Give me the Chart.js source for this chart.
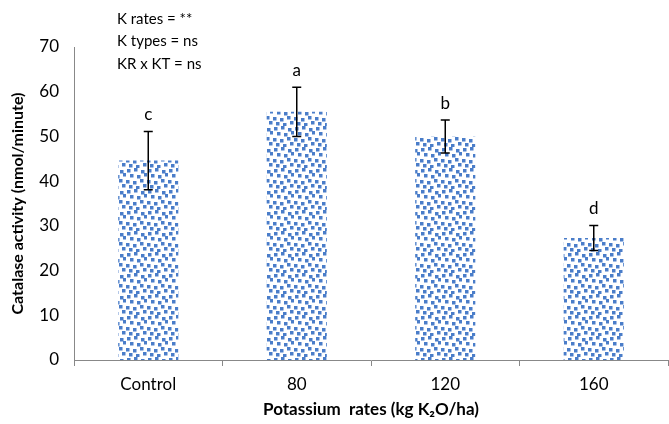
<!DOCTYPE html>
<html>
<head>
<meta charset="utf-8">
<script src="https://cdn.jsdelivr.net/npm/chart.js@4"></script>
<style>
  html, body { margin: 0; padding: 0; background: #fff; }
  #wrap { width: 669px; height: 424px; position: relative; }
</style>
</head>
<body>
<div id="wrap"><canvas id="chart"></canvas></div>
<script>
// Data
const categories = ['Control', '80', '120', '160'];
const catalase = [44.6, 55.5, 50.0, 27.3];
const errors = [6.5, 5.5, 3.7, 2.8];
const letters = ['c', 'a', 'b', 'd'];
const notes = ['K rates = **', 'K types = ns', 'KR x KT = ns'];

const FONT = 'Lato, "Open Sans", sans-serif';

// dotted blue fill like the original (staggered, slightly irregular squares)
function makePattern() {
    const c = document.createElement('canvas');
    c.width = 21; c.height = 21;
    const g = c.getContext('2d');
    g.fillStyle = '#ffffff';
    g.fillRect(0, 0, 21, 21);
    g.fillStyle = '#4a7dc9';
    [[1, 1], [8, 0], [15, 2], [4, 6], [11, 7], [18, 5], [0, 12], [7, 13], [14, 11], [3, 17], [10, 18], [17, 16]]
        .forEach(p => g.fillRect(p[0], p[1], 3.5, 3.5));
    return g.createPattern(c, 'repeat');
}

const errorBars = {
    id: 'errorBars',
    afterDatasetsDraw(chart) {
        const ctx = chart.ctx;
        const y = chart.scales.y;
        const meta = chart.getDatasetMeta(0);
        ctx.save();
        ctx.strokeStyle = '#000';
        ctx.lineWidth = 1.5;
        meta.data.forEach((bar, i) => {
            const x = bar.x;
            const top = y.getPixelForValue(catalase[i] + errors[i]);
            const bot = y.getPixelForValue(catalase[i] - errors[i]);
            ctx.beginPath();
            ctx.moveTo(x, top); ctx.lineTo(x, bot);
            ctx.moveTo(x - 4.5, top); ctx.lineTo(x + 4.5, top);
            ctx.moveTo(x - 4.5, bot); ctx.lineTo(x + 4.5, bot);
            ctx.stroke();
            ctx.fillStyle = '#000';
            ctx.font = '17px ' + FONT;
            ctx.textAlign = 'center';
            ctx.textBaseline = 'bottom';
            ctx.fillText(letters[i], x, top - 8);
        });
        ctx.font = '15px ' + FONT;
        ctx.textAlign = 'left';
        ctx.textBaseline = 'middle';
        notes.forEach((t, i) => ctx.fillText(t, 117, 19 + i * 22.5));
        ctx.restore();
    }
};

new Chart(document.getElementById('chart'), {
    type: 'bar',
    data: {
        labels: categories,
        datasets: [{
            data: catalase,
            backgroundColor: makePattern(),
            borderWidth: 0,
            categoryPercentage: 1,
            barPercentage: 0.405
        }]
    },
    options: {
        responsive: true,
        maintainAspectRatio: false,
        animation: false,
        layout: { padding: { top: 47, right: 1, left: 0, bottom: 0 } },
        plugins: { legend: { display: false }, tooltip: { enabled: false } },
        scales: {
            y: {
                min: 0, max: 70,
                ticks: { stepSize: 10, color: '#000', font: { family: FONT, size: 17 }, padding: 9 },
                grid: { display: false, drawTicks: true, tickLength: 6, color: '#888' },
                border: { display: true, color: '#888' },
                title: {
                    display: true, text: 'Catalase activity (nmol/minute)', color: '#000',
                    font: { family: FONT, size: 16, weight: 'bold' }, padding: { top: 8, bottom: 4 }
                },
                afterFit: s => { s.width = 74; }
            },
            x: {
                ticks: { color: '#000', font: { family: FONT, size: 17 }, padding: 8 },
                grid: { display: true, drawOnChartArea: false, offset: true, tickLength: 6, color: '#888' },
                border: { display: true, color: '#888' },
                title: {
                    display: true, text: 'Potassium  rates (kg K\u2082O/ha)', color: '#000',
                    font: { family: FONT, size: 17, weight: 'bold' }, padding: { top: 6, bottom: 4 }
                },
                afterFit: s => { s.height = 64; }
            }
        }
    },
    plugins: [errorBars]
});
</script>
</body>
</html>
